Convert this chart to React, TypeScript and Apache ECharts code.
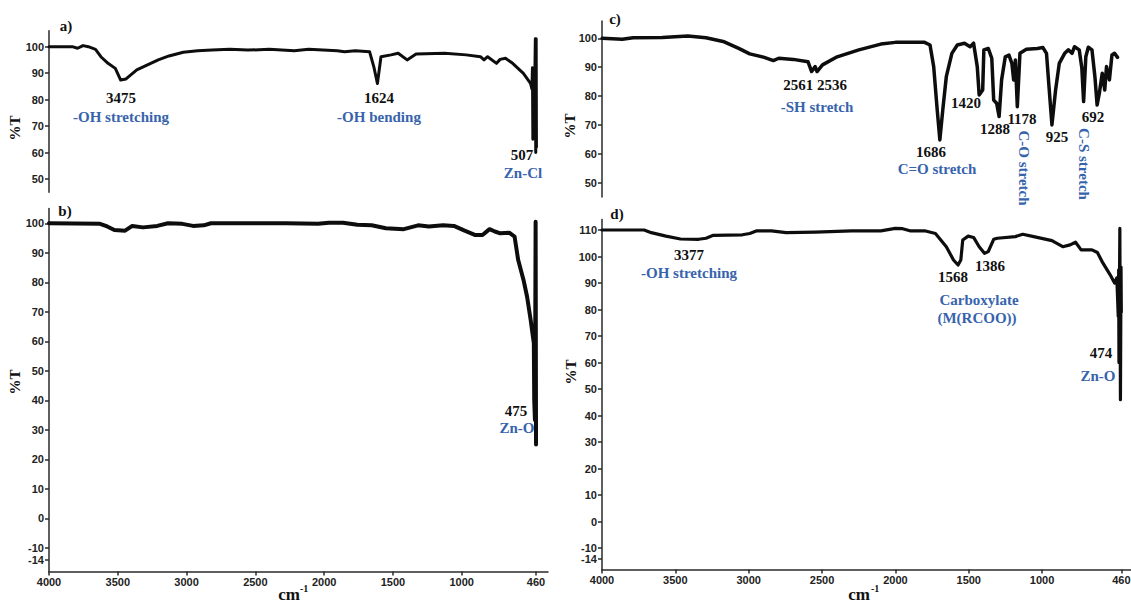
import React, { useEffect, useRef } from "react";
import * as echarts from "echarts";

// ---------- tick labels ----------
const X_TICKS = [4000, 3500, 3000, 2500, 2000, 1500, 1000, 460];
const Y_TICKS_A = [50, 60, 70, 80, 90, 100];
const Y_TICKS_B = [-14, -10, 0, 10, 20, 30, 40, 50, 60, 70, 80, 90, 100];
const Y_TICKS_C = [50, 60, 70, 80, 90, 100];
const Y_TICKS_D = [-10, 0, 10, 20, 30, 40, 50, 60, 70, 80, 90, 100, 110];
const Y_TICKS_D_LOW = [-14];

// ---------- spectrum a) ----------
const waveA = [4000, 3831, 3792, 3753, 3714, 3662, 3623, 3571, 3518, 3479, 3440, 3362, 3284, 3206, 3128, 3024, 2920, 2815, 2686, 2555, 2399, 2217, 2113, 1905, 1852, 1774, 1670, 1639, 1613, 1587, 1514, 1462, 1397, 1332, 1124, 968, 864, 838, 812, 747, 721, 682, 630, 552, 500, 490, 486, 483, 479, 470, 465, 462, 459, 457];
const transA = [100, 100, 99.4, 100.4, 100, 99, 96.2, 93.7, 91.8, 87.4, 87.8, 91.2, 93.1, 95, 96.5, 97.9, 98.5, 98.7, 99, 98.7, 99, 98.5, 99, 98.5, 98.1, 98.5, 98.1, 92.4, 86.1, 96.2, 96.9, 97.5, 95, 97.2, 97.5, 96.9, 96.2, 95, 96.2, 93.7, 95.2, 95.6, 93.7, 89.9, 86.1, 84, 92, 65, 86, 84, 103, 60, 103, 62];

// ---------- spectrum b) ----------
const waveB = [4000, 3629, 3577, 3525, 3447, 3395, 3317, 3213, 3135, 3031, 2953, 2875, 2823, 2538, 2278, 2044, 1966, 1863, 1759, 1655, 1551, 1421, 1317, 1239, 1135, 1057, 979, 901, 849, 798, 759, 720, 655, 616, 590, 551, 525, 499, 486, 476, 473, 468, 463, 460];
const transB = [100, 99.8, 98.9, 97.7, 97.5, 99.1, 98.6, 99.1, 100, 99.8, 99.1, 99.3, 100, 100, 100, 99.8, 100.2, 100.2, 99.5, 99.3, 98.3, 98, 99.3, 98.9, 99.3, 99.1, 97.5, 96, 96, 98, 97.2, 96.6, 96.8, 95.5, 87.6, 80.8, 75.1, 67.2, 62.7, 59.3, 40, 33.3, 100.5, 25];

// ---------- spectrum c) ----------
const waveC = [3999, 3862, 3788, 3589, 3415, 3291, 3167, 3068, 2993, 2894, 2832, 2795, 2696, 2596, 2571, 2547, 2534, 2497, 2397, 2249, 2099, 2000, 1801, 1764, 1739, 1715, 1697, 1677, 1653, 1615, 1578, 1529, 1491, 1467, 1442, 1429, 1405, 1397, 1367, 1343, 1330, 1310, 1293, 1276, 1251, 1226, 1206, 1194, 1182, 1169, 1151, 1107, 1032, 995, 970, 953, 933, 908, 883, 846, 821, 796, 779, 747, 729, 717, 702, 685, 660, 640, 625, 610, 590, 573, 561, 541, 524, 506, 486];
const transC = [100, 99.7, 100.2, 100.3, 100.8, 100.2, 98.8, 96.5, 94.6, 93.4, 92.3, 93.1, 92.7, 91.9, 88.5, 90.2, 88.5, 90.8, 93.6, 96, 98, 98.6, 98.6, 97.7, 90.2, 75.2, 64.8, 75.2, 86.7, 94.8, 97.7, 98.3, 97.1, 98.3, 90.2, 80.4, 82.1, 96, 96.5, 93.1, 78.6, 77.5, 72.9, 85.6, 93.6, 94.2, 91.3, 85.6, 92.5, 76.3, 94.8, 96.2, 96.5, 96.8, 94.8, 83.3, 70, 82.1, 91.3, 94.8, 96, 94.8, 97.1, 96, 89.6, 78.1, 93.6, 96.9, 96, 86.7, 76.9, 80.9, 87.9, 82.1, 90.2, 85.6, 94.2, 94.8, 93.4];

// ---------- spectrum d) ----------
const waveD = [4000, 3713, 3664, 3564, 3465, 3341, 3291, 3241, 3043, 2993, 2944, 2845, 2745, 2547, 2298, 2099, 2000, 1951, 1901, 1801, 1727, 1653, 1604, 1573, 1554, 1541, 1504, 1467, 1429, 1393, 1367, 1330, 1305, 1182, 1132, 1057, 933, 859, 809, 772, 734, 660, 623, 585, 536, 506, 491, 486, 481, 478, 476, 470, 466, 462, 460];
const transD = [110, 110, 109, 107.7, 106.6, 106.5, 106.9, 108, 108.2, 108.7, 109.7, 109.7, 109, 109.2, 109.7, 109.7, 110.6, 110.5, 109.7, 109.7, 108.7, 103.7, 98.7, 96.8, 98.7, 106.2, 107.7, 107.2, 103.7, 101.2, 101.9, 106.5, 106.9, 107.5, 108.4, 107.5, 106, 103.7, 104.4, 105.4, 102.5, 102.5, 101.5, 97.5, 93.1, 90, 91.9, 85, 77.4, 95, 60, 110.6, 46, 96, 79];

// ---------- annotations ----------
const peakLabelsA = ["3475", "1624", "507"];
const bandLabelsA = ["-OH stretching", "-OH bending", "Zn-Cl"];
const peakLabelsB = ["475"];
const bandLabelsB = ["Zn-O"];
const peakLabelsC = ["2561 2536", "1420", "1288", "1178", "925", "692", "1686"];
const bandLabelsC = ["-SH stretch", "C=O stretch", "C-O stretch", "C-S stretch"];
const peakLabelsD = ["3377", "1568", "1386", "474"];
const bandLabelsD = ["-OH stretching", "Carboxylate", "(M(RCOO))", "Zn-O"];

const zip = (xs: number[], ys: number[]) => xs.map((x, i) => [x, ys[i]]);

const SANS = "'Liberation Sans', Arial, sans-serif";
const SERIF = "'Liberation Serif', 'Times New Roman', serif";
const BLUE = "#3763ad";
const AXIS_LINE = { color: "#2a2a2a", width: 1.5 };

function yAxis(grid: number, min: number, max: number, ticks: number[], line = true) {
  return {
    type: "value",
    gridIndex: grid,
    position: "left",
    offset: 0,
    min,
    max,
    splitLine: { show: false },
    axisLine: { show: line, onZero: false, lineStyle: AXIS_LINE },
    axisTick: { show: true, length: 4, customValues: ticks, lineStyle: AXIS_LINE },
    axisLabel: {
      customValues: ticks,
      formatter: (v: number) => String(v),
      hideOverlap: false,
      fontSize: 11,
      fontWeight: "bold",
      color: "#222",
      margin: 5,
      fontFamily: SANS,
    },
  };
}

function xAxis(grid: number, min: number, visible: boolean) {
  return {
    type: "value",
    gridIndex: grid,
    inverse: true,
    min,
    max: 4000,
    show: visible,
    splitLine: { show: false },
    axisLine: { show: true, onZero: false, lineStyle: AXIS_LINE },
    axisTick: { show: true, length: 4, customValues: X_TICKS, lineStyle: AXIS_LINE },
    axisLabel: {
      customValues: X_TICKS,
      formatter: (v: number) => String(v),
      hideOverlap: false,
      fontSize: 11,
      fontWeight: "bold",
      color: "#222",
      margin: 5,
      fontFamily: SANS,
    },
  };
}

function txt(x: number, y: number, text: string, o: any = {}) {
  return {
    type: "text",
    x,
    y,
    rotation: o.rotation || 0,
    style: {
      text,
      fill: o.fill || "#111",
      fontSize: o.size || 15,
      fontWeight: "bold",
      fontFamily: o.family || SERIF,
      align: o.align || "center",
      verticalAlign: "middle",
    },
  };
}

const series = [
  { d: zip(waveA, transA), w: 3 },
  { d: zip(waveB, transB), w: 4 },
  { d: zip(waveC, transC), w: 3.5 },
  { d: zip(waveD, transD), w: 3.2 },
].map((s, i) => ({
  type: "line",
  xAxisIndex: i,
  yAxisIndex: i,
  data: s.d,
  showSymbol: false,
  symbol: "none",
  lineStyle: { color: "#0d0d0d", width: s.w, join: "round", cap: "round" },
}));

const graphics = [
  // panel letters
  txt(66, 26, "a)"),
  txt(65, 211, "b)"),
  txt(615, 19, "c)"),
  txt(617, 214, "d)"),
  // %T
  txt(15, 128, "%T", { rotation: Math.PI / 2, size: 15 }),
  txt(15, 382, "%T", { rotation: Math.PI / 2, size: 15 }),
  txt(570, 126, "%T", { rotation: Math.PI / 2, size: 15 }),
  txt(571, 372, "%T", { rotation: Math.PI / 2, size: 15 }),
  // cm-1
  txt(289, 594, "cm", { size: 17 }),
  txt(300, 588, "-1", { size: 10, align: "left" }),
  txt(859, 594, "cm", { size: 17 }),
  txt(871, 588, "-1", { size: 10, align: "left" }),
  // a)
  txt(121, 98, peakLabelsA[0]),
  txt(121, 117, bandLabelsA[0], { fill: BLUE }),
  txt(379, 98, peakLabelsA[1]),
  txt(379, 117, bandLabelsA[1], { fill: BLUE }),
  txt(522, 155, peakLabelsA[2]),
  txt(523, 173, bandLabelsA[2], { fill: BLUE }),
  // b)
  txt(516, 411, peakLabelsB[0]),
  txt(517, 428, bandLabelsB[0], { fill: BLUE }),
  // c)
  txt(815, 85, peakLabelsC[0]),
  txt(817, 107, bandLabelsC[0], { fill: BLUE }),
  txt(966, 103, peakLabelsC[1]),
  txt(995, 129, peakLabelsC[2]),
  txt(1022, 119, peakLabelsC[3]),
  txt(1057, 137, peakLabelsC[4]),
  txt(1093, 117, peakLabelsC[5]),
  txt(931, 152, peakLabelsC[6]),
  txt(937, 169, bandLabelsC[1], { fill: BLUE }),
  txt(1024, 168, bandLabelsC[2], { fill: BLUE, rotation: -Math.PI / 2 }),
  txt(1084, 164, bandLabelsC[3], { fill: BLUE, rotation: -Math.PI / 2 }),
  // d)
  txt(689, 255, peakLabelsD[0]),
  txt(689, 273, bandLabelsD[0], { fill: BLUE }),
  txt(953, 277, peakLabelsD[1]),
  txt(990, 266, peakLabelsD[2]),
  txt(979, 300, bandLabelsD[1], { fill: BLUE }),
  txt(977, 318, bandLabelsD[2], { fill: BLUE }),
  txt(1101, 353, peakLabelsD[3]),
  txt(1098, 376, bandLabelsD[3], { fill: BLUE }),
];

const option: any = {
  animation: false,
  backgroundColor: "#ffffff",
  grid: [
    { left: 49, top: 30.8, width: 499, height: 161.4, outerBoundsMode: "none", containLabel: false },
    { left: 49, top: 208.5, width: 499, height: 362.9, outerBoundsMode: "none", containLabel: false },
    { left: 602, top: 21, width: 529, height: 176.1, outerBoundsMode: "none", containLabel: false },
    { left: 602, top: 219.4, width: 529, height: 350, outerBoundsMode: "none", containLabel: false },
  ],
  xAxis: [xAxis(0, 373, false), xAxis(1, 373, true), xAxis(2, 394, false), xAxis(3, 394, true)],
  yAxis: [
    yAxis(0, 45, 106, Y_TICKS_A),
    yAxis(1, -18, 105, Y_TICKS_B),
    yAxis(2, 45, 106, Y_TICKS_C),
    yAxis(3, -18, 114, Y_TICKS_D),
    yAxis(3, -18, 114, Y_TICKS_D_LOW, false),
  ],
  series,
  graphic: graphics,
};

export default function App() {
  const ref = useRef<HTMLDivElement>(null);
  useEffect(() => {
    const chart = echarts.init(ref.current as HTMLDivElement, null, { renderer: "svg" });
    chart.setOption(option);
    return () => chart.dispose();
  }, []);
  return (
    <div
      ref={ref}
      style={{ position: "absolute", left: 0, top: 0, width: 1131, height: 604, background: "#fff" }}
    />
  );
}
